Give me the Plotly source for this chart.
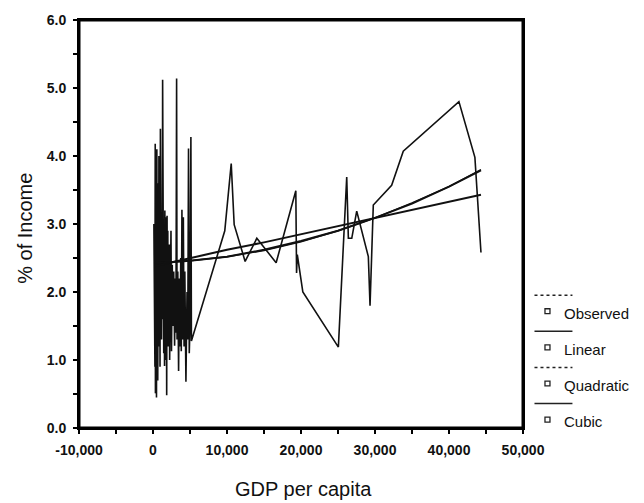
import plotly.graph_objects as go

# ---- data ----
obs_x = [120, 180, 220, 260, 300, 330, 370, 400, 440, 470, 520, 560, 600, 640, 700, 750,
         800, 850, 900, 950, 1000, 1050, 1100, 1150, 1200, 1260, 1300, 1350, 1400, 1450,
         1500, 1560, 1600, 1650, 1700, 1750, 1800, 1850, 1900, 1950, 2000, 2050, 2100,
         2150, 2200, 2250, 2330, 2380, 2430, 2500, 2600, 2700, 2800, 2920, 3000, 3100,
         3190, 3250, 3350, 3460, 3550, 3650, 3750, 3820, 3910, 4000, 4100, 4200, 4300,
         4450, 4600, 4700, 4800, 4900, 5000, 5120, 5190,
         9700, 10570, 10970, 12450, 14030, 16640, 19300, 19400, 19500, 20250, 25050,
         26180, 26400, 26860, 27530, 29100, 29330, 29770, 32250, 33820, 41340, 43500, 44320]
obs_y = [3.0, 1.4, 2.9, 0.9, 4.18, 0.51, 4.1, 0.6, 3.8, 0.45, 4.1, 1.0, 3.6, 0.7, 3.3, 1.2,
         4.0, 1.5, 3.1, 0.9, 4.40, 1.8, 3.5, 1.3, 2.9, 1.6, 5.12, 2.0, 3.3, 1.1,
         3.0, 0.91, 3.2, 1.4, 2.8, 1.0, 3.1, 0.48, 3.12, 1.5, 2.9, 1.2, 2.6,
         1.6, 2.7, 1.0, 2.4, 1.7, 2.9, 1.13, 2.4, 1.5, 2.3, 1.21, 2.2, 1.4,
         5.14, 1.3, 2.3, 0.84, 2.2, 1.2, 2.5, 1.13, 3.21, 1.3, 3.1, 1.2, 2.3,
         0.68, 2.0, 1.3, 4.11, 1.1, 1.5, 4.28, 1.28,
         2.90, 3.89, 2.99, 2.45, 2.79, 2.43, 3.49, 2.28, 2.55, 2.00, 1.19,
         3.69, 2.79, 2.79, 3.19, 2.52, 1.80, 3.28, 3.57, 4.07, 4.80, 3.98, 2.58]

fit_x = [200, 5000, 10000, 15000, 20000, 25000, 30000, 35000, 40000, 44320]
linear_y = [2.38, 2.50, 2.62, 2.73, 2.85, 2.97, 3.09, 3.21, 3.32, 3.43]
quadratic_y = [2.42, 2.46, 2.52, 2.62, 2.75, 2.90, 3.09, 3.30, 3.55, 3.79]
cubic_y = [2.43, 2.46, 2.52, 2.61, 2.74, 2.90, 3.09, 3.31, 3.55, 3.80]

x_tick_vals = [-10000, 0, 10000, 20000, 30000, 40000, 50000]
x_tick_text = ["-10,000", "0", "10,000", "20,000", "30,000", "40,000", "50,000"]
y_tick_vals = [0, 1, 2, 3, 4, 5, 6]
y_tick_text = ["0.0", "1.0", "2.0", "3.0", "4.0", "5.0", "6.0"]

legend_names = ["Observed", "Linear", "Quadratic", "Cubic"]
legend_dash = ["dot", "solid", "dot", "solid"]

# ---- layout geometry (pixels) ----
W, H = 644, 503
L, R, T, B = 79, 523.5, 14, 428.3


def px(x):
    return (x - L) / (R - L)


def py(y):
    return (B - y) / (B - T)


fig = go.Figure()
fig.add_trace(go.Scatter(x=obs_x, y=obs_y, mode="lines", name="Observed",
                         line=dict(color="#111111", width=1.6), showlegend=False))
fig.add_trace(go.Scatter(x=fit_x, y=linear_y, mode="lines", name="Linear",
                         line=dict(color="#111111", width=2), showlegend=False))
fig.add_trace(go.Scatter(x=fit_x, y=quadratic_y, mode="lines", name="Quadratic",
                         line=dict(color="#111111", width=2), showlegend=False))
fig.add_trace(go.Scatter(x=fit_x, y=cubic_y, mode="lines", name="Cubic",
                         line=dict(color="#111111", width=1.5), showlegend=False))

font_family = "Liberation Sans, Arial, sans-serif"

frame = dict(color="#000000", width=3)
shapes = [
    dict(type="line", xref="paper", yref="paper", x0=0, x1=1, y0=1, y1=1, line=frame),
    dict(type="line", xref="paper", yref="paper", x0=0, x1=1, y0=0, y1=0, line=frame),
    dict(type="line", xref="paper", yref="paper", x0=0, x1=0, y0=0, y1=1, line=frame),
    dict(type="line", xref="paper", yref="paper", x0=1, x1=1, y0=0, y1=1, line=frame),
]
annotations = []
for i, (name, dash) in enumerate(zip(legend_names, legend_dash)):
    ty = 311.7 + i * 36.7
    ly = ty - 18.3
    shapes.append(dict(type="line", xref="paper", yref="paper",
                       x0=px(535), x1=px(573), y0=py(ly), y1=py(ly),
                       line=dict(color="#222222", width=1.5, dash=dash)))
    shapes.append(dict(type="rect", xref="paper", yref="paper",
                       x0=px(545.5), x1=px(550.5), y0=py(ty + 0.5), y1=py(ty - 4.5),
                       line=dict(color="#222222", width=1.3),
                       fillcolor="rgba(0,0,0,0)"))
    annotations.append(dict(xref="paper", yref="paper", x=px(563), y=py(ty),
                            xanchor="left", yanchor="middle", showarrow=False,
                            text=name, font=dict(family=font_family, size=15, color="#111111")))

annotations.append(dict(xref="paper", yref="paper", x=px(304), y=py(490),
                        xanchor="center", yanchor="middle", showarrow=False,
                        text="GDP per capita",
                        font=dict(family=font_family, size=20, color="#111111")))
annotations.append(dict(xref="paper", yref="paper", x=px(25), y=py(226),
                        xanchor="center", yanchor="middle", showarrow=False,
                        text="% of Income", textangle=-90,
                        font=dict(family=font_family, size=20, color="#111111")))

axis_common = dict(showgrid=False, zeroline=False, showline=True, linecolor="#000000",
                   linewidth=2, mirror=True, ticks="outside", ticklen=4, tickwidth=2,
                   tickcolor="#000000", ticklabelstandoff=4)

fig.update_layout(
    width=W, height=H,
    margin=dict(l=L, r=W - R, t=T, b=H - B, pad=0),
    paper_bgcolor="white", plot_bgcolor="white",
    showlegend=False,
    shapes=shapes, annotations=annotations,
    xaxis=dict(range=[-10000, 50000], tickmode="array", tickvals=x_tick_vals,
               ticktext=x_tick_text,
               minor=dict(tickvals=[-5000, 5000, 15000, 25000, 35000, 45000],
                          ticks="outside", ticklen=4, tickwidth=1.5,
                          tickcolor="#000000", showgrid=False),
               tickfont=dict(family=font_family, size=14, color="#111111", weight="bold"),
               **axis_common),
    yaxis=dict(range=[0, 6], tickmode="array", tickvals=y_tick_vals,
               ticktext=y_tick_text,
               minor=dict(tickvals=[0.5, 1.5, 2.5, 3.5, 4.5, 5.5],
                          ticks="outside", ticklen=4, tickwidth=1.5,
                          tickcolor="#000000", showgrid=False),
               tickfont=dict(family=font_family, size=14, color="#111111", weight="bold"),
               **axis_common),
)

fig.write_html("out.html")
